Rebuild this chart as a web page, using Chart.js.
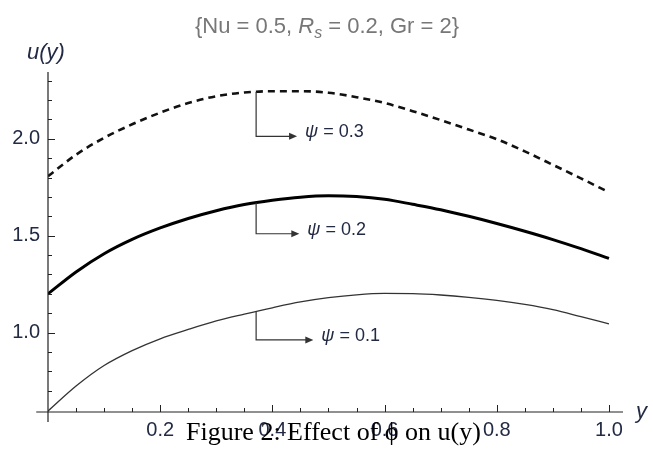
<!DOCTYPE html>
<html>
<head>
<meta charset="utf-8">
<script src="https://cdn.jsdelivr.net/npm/chart.js@4.4.1/dist/chart.umd.min.js"></script>
<style>
  html, body { margin: 0; padding: 0; background: #fff; }
  #wrap { width: 653px; height: 450px; }
</style>
</head>
<body>
<div id="wrap"><canvas id="chart_velocityProfile" width="653" height="450"></canvas></div>
<script>
// positions across the channel (x axis, "y")
const yPositions = [0, 0.05, 0.1, 0.15, 0.2, 0.25, 0.3, 0.35, 0.4, 0.45, 0.5,
                    0.55, 0.6, 0.65, 0.7, 0.75, 0.8, 0.85, 0.9, 0.95, 1.0];

// u(y) for each psi
const uPsi01 = [0.595, 0.724, 0.830, 0.907, 0.968, 1.016, 1.060, 1.095, 1.128, 1.158, 1.180,
                1.195, 1.202, 1.201, 1.194, 1.182, 1.166, 1.145, 1.118, 1.082, 1.045];
const uPsi02 = [1.200, 1.313, 1.407, 1.481, 1.540, 1.589, 1.629, 1.661, 1.683, 1.699, 1.706,
                1.702, 1.688, 1.662, 1.634, 1.600, 1.563, 1.523, 1.480, 1.433, 1.383];
const uPsi03 = [1.807, 1.918, 2.005, 2.075, 2.135, 2.185, 2.220, 2.239, 2.246, 2.246, 2.238,
                2.215, 2.185, 2.143, 2.097, 2.048, 1.998, 1.935, 1.866, 1.796, 1.724];

// tick labels and tick marks
const xTickLabels = [0.2, 0.4, 0.6, 0.8, 1.0];
const yTickLabels = [1.0, 1.5, 2.0];
const xMinorTicks = [0.05, 0.1, 0.15, 0.25, 0.3, 0.35, 0.45, 0.5, 0.55, 0.65, 0.7, 0.75, 0.85, 0.9, 0.95];
const yMinorTicks = [0.7, 0.8, 0.9, 1.1, 1.2, 1.3, 1.4, 1.6, 1.7, 1.8, 1.9, 2.1, 2.2, 2.3];

// plot range / axes crossing
const xMin = 0, xMax = 1.025;
const yMin = 0.59, yMax = 2.345;
const xAxisStart = -0.021, yAxisStart = 0.538;

// curve labels: psi value, leader x, leader bottom, arrow end
const annoPsi = ['0.1', '0.2', '0.3'];
const annoLeaderX = 0.371;
const annoBottom = [0.962, 1.51, 2.013];
const annoArrowEnd = [0.473, 0.448, 0.444];

const toPoints = (vals) => yPositions.map((x, i) => ({ x: x, y: vals[i] }));

const valueAt = (vals, x) => {
  for (let i = 1; i < yPositions.length; i++) {
    if (x <= yPositions[i]) {
      const t = (x - yPositions[i - 1]) / (yPositions[i] - yPositions[i - 1]);
      return vals[i - 1] + t * (vals[i] - vals[i - 1]);
    }
  }
  return vals[vals.length - 1];
};

const textColor = '#222a44';
const sans = '"Liberation Sans", Arial, sans-serif';

const axesPlugin = {
  id: 'mathematicaAxes',
  afterDraw: (chart) => {
    const ctx = chart.ctx;
    const sx = chart.scales.x, sy = chart.scales.y;
    const ox = sx.getPixelForValue(0), oy = sy.getPixelForValue(yMin);
    ctx.save();
    ctx.strokeStyle = '#222';
    ctx.lineWidth = 1.2;
    ctx.beginPath();
    ctx.moveTo(sx.getPixelForValue(xAxisStart), oy);
    ctx.lineTo(sx.getPixelForValue(xMax), oy);
    ctx.moveTo(ox, sy.getPixelForValue(yAxisStart));
    ctx.lineTo(ox, sy.getPixelForValue(yMax));
    ctx.stroke();

    ctx.lineWidth = 1;
    ctx.beginPath();
    xTickLabels.forEach(v => { const p = Math.round(sx.getPixelForValue(v)) + 0.5; ctx.moveTo(p, oy); ctx.lineTo(p, oy - 7); });
    xMinorTicks.forEach(v => { const p = Math.round(sx.getPixelForValue(v)) + 0.5; ctx.moveTo(p, oy); ctx.lineTo(p, oy - 4); });
    yTickLabels.forEach(v => { const p = Math.round(sy.getPixelForValue(v)) + 0.5; ctx.moveTo(ox, p); ctx.lineTo(ox + 7, p); });
    yMinorTicks.forEach(v => { const p = Math.round(sy.getPixelForValue(v)) + 0.5; ctx.moveTo(ox, p); ctx.lineTo(ox + 4, p); });
    ctx.stroke();

    // axis names
    ctx.fillStyle = textColor;
    ctx.font = 'italic 22px ' + sans;
    ctx.textBaseline = 'middle';
    ctx.textAlign = 'center';
    ctx.fillText('u(y)', ox - 2, sy.getPixelForValue(yMax) - 19);
    ctx.textAlign = 'left';
    ctx.fillText('y', sx.getPixelForValue(xMax) + 13, oy);

    // curve labels with arrows
    const series = [uPsi01, uPsi02, uPsi03];
    ctx.strokeStyle = '#333';
    ctx.fillStyle = '#333';
    ctx.lineWidth = 1.2;
    annoPsi.forEach((psi, i) => {
      const lx = sx.getPixelForValue(annoLeaderX);
      const top = sy.getPixelForValue(valueAt(series[i], annoLeaderX));
      const bot = sy.getPixelForValue(annoBottom[i]);
      const ex = sx.getPixelForValue(annoArrowEnd[i]);
      ctx.beginPath();
      ctx.moveTo(lx, top);
      ctx.lineTo(lx, bot);
      ctx.lineTo(ex - 6, bot);
      ctx.stroke();
      ctx.beginPath();
      ctx.moveTo(ex, bot);
      ctx.lineTo(ex - 8, bot - 3.5);
      ctx.lineTo(ex - 8, bot + 3.5);
      ctx.closePath();
      ctx.fill();
      ctx.fillStyle = textColor;
      ctx.textAlign = 'left';
      ctx.font = 'italic 18px ' + sans;
      const tx = ex + 8, ty = bot - 4;
      ctx.fillText('\u03C8', tx, ty);
      const w = ctx.measureText('\u03C8').width;
      ctx.font = '18px ' + sans;
      ctx.fillText(' = ' + psi, tx + w, ty);
      ctx.fillStyle = '#333';
    });

    // title with italic subscript
    ctx.fillStyle = '#777';
    ctx.textBaseline = 'alphabetic';
    const parts = [
      { t: '{Nu = 0.5, ', f: '22px ' + sans, dy: 0 },
      { t: 'R', f: 'italic 22px ' + sans, dy: 0 },
      { t: 's', f: 'italic 16px ' + sans, dy: 5 },
      { t: ' = 0.2, Gr = 2}', f: '22px ' + sans, dy: 0 }
    ];
    let total = 0;
    parts.forEach(p => { ctx.font = p.f; p.w = ctx.measureText(p.t).width; total += p.w; });
    let cx = 327 - total / 2;
    parts.forEach(p => { ctx.font = p.f; ctx.fillText(p.t, cx, 33 + p.dy); cx += p.w; });

    // figure caption (overlaps the tick labels, as in the scan)
    ctx.fillStyle = '#000';
    ctx.font = '26px "Liberation Serif", "Times New Roman", serif';
    ctx.fillText('Figure 2: Effect of \u03D5 on u(y)', 186, 440);
    ctx.restore();
  }
};

const chart_velocityProfile = new Chart(document.getElementById('chart_velocityProfile'), {
  type: 'line',
  data: {
    datasets: [
      {
        label: '\u03C8 = 0.3',
        data: toPoints(uPsi03),
        borderColor: '#111',
        borderWidth: 2.6,
        borderDash: [7, 5],
        pointRadius: 0,
        cubicInterpolationMode: 'monotone'
      },
      {
        label: '\u03C8 = 0.2',
        data: toPoints(uPsi02),
        borderColor: '#000',
        borderWidth: 3,
        pointRadius: 0,
        cubicInterpolationMode: 'monotone'
      },
      {
        label: '\u03C8 = 0.1',
        data: toPoints(uPsi01),
        borderColor: '#333',
        borderWidth: 1.3,
        pointRadius: 0,
        cubicInterpolationMode: 'monotone'
      }
    ]
  },
  options: {
    animation: false,
    responsive: false,
    layout: { padding: { left: 0, right: 30, top: 72, bottom: 0 } },
    plugins: {
      legend: { display: false },
      tooltip: { enabled: false },
      title: { display: false }
    },
    scales: {
      x: {
        type: 'linear',
        min: xMin,
        max: xMax,
        grid: { display: false, drawTicks: false },
        border: { display: false },
        afterBuildTicks: s => { s.ticks = xTickLabels.map(v => ({ value: v })); },
        afterFit: s => { s.height = 38; },
        ticks: {
          padding: 6,
          color: textColor,
          font: { family: sans, size: 20 },
          maxRotation: 0,
          callback: v => Number(v).toFixed(1)
        }
      },
      y: {
        type: 'linear',
        min: yMin,
        max: yMax,
        grid: { display: false, drawTicks: false },
        border: { display: false },
        afterBuildTicks: s => { s.ticks = yTickLabels.map(v => ({ value: v })); },
        afterFit: s => { s.width = 48; },
        ticks: {
          padding: 8,
          color: textColor,
          font: { family: sans, size: 20 },
          callback: v => Number(v).toFixed(1)
        }
      }
    }
  },
  plugins: [axesPlugin]
});
</script>
</body>
</html>
